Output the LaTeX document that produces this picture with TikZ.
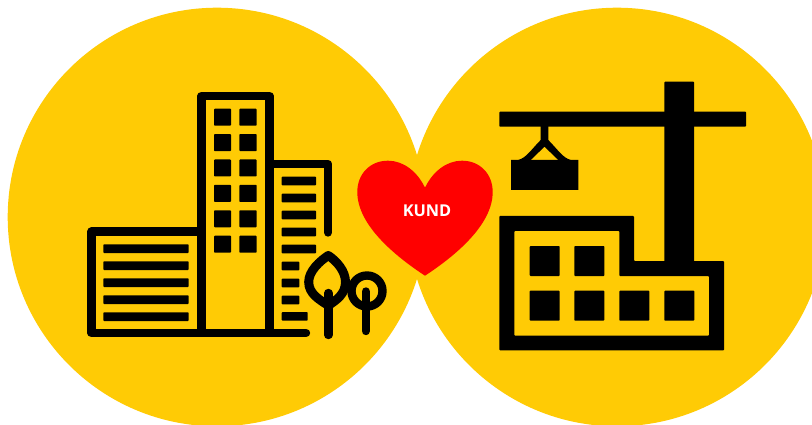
\documentclass[tikz,border=0pt]{standalone}
\usepackage{fontspec}
\setmainfont{Open Sans}
\definecolor{gold}{HTML}{FFCB05}
\definecolor{hrt}{HTML}{FF0000}
\tikzset{
  ink/.style={draw=black,line width=8.4pt,line join=round},
  inkr/.style={ink,line cap=round},
  bar/.style={fill=black,rounded corners=0.8pt},
}
\begin{document}
\begin{tikzpicture}[x=1pt,y=-1pt]
\useasboundingbox (0,0) rectangle (812,425);
\clip (0,0) rectangle (812,425);
\fill[white] (0,0) rectangle (812,425);
\fill[gold] (217,217) circle[radius=209.3];
\fill[gold] (617,217) circle[radius=209.3];
% left: buildings
\draw[ink] (201.5,333) -- (201.5,96) -- (269.5,96) -- (269.5,333);
\draw[inkr] (306,333) -- (91.5,333) -- (91.5,231.7) -- (201.5,231.7);
\draw[inkr] (269.5,164) -- (328,164) -- (328,232.5);
\foreach \r in {0,...,5}{
  \fill[bar] (214,108.7+25.4*\r) rectangle (231,125.7+25.4*\r);
  \fill[bar] (239.3,108.7+25.4*\r) rectangle (256.7,125.7+25.4*\r);
}
\foreach \r in {0,...,4}{
  \fill[bar] (103.3,244.3+17*\r) rectangle (188.7,253+17*\r);
  \fill[bar] (281.7,176.7+17*\r) rectangle (316,185.3+17*\r);
}
\foreach \r in {5,6,7}{
  \fill[bar] (281.7,176.7+17*\r) rectangle (299.3,185.3+17*\r);
}
\fill[bar] (281.7,312) rectangle (307.7,320.6);
% trees
\draw[ink,line width=9pt] (328.3,255.5) .. controls (320,261) and (308.7,271) .. (308.7,282)
  .. controls (308.7,294) and (320,300) .. (328.3,305.5)
  .. controls (336.6,300) and (345.5,294) .. (345.5,282)
  .. controls (345.5,271) and (336.6,261) .. (328.3,255.5) -- cycle;
\draw[inkr] (328.3,293) -- (328.3,335);
\draw[ink] (367,291) circle[radius=15.5];
\draw[inkr] (365.7,291.5) -- (365.7,331);
% right: crane
\fill[bar] (499.3,111.7) rectangle (746,126.7);
\fill[bar] (664.3,81.7) rectangle (694,265);
\fill[black,even odd rule]
  (540.7,126) -- (540.7,140) .. controls (530,151) and (526,158) .. (518,160)
  -- (511,160) -- (511,190) -- (578.3,190) -- (578.3,160) -- (571,160)
  .. controls (563,158) and (559,151) .. (548.3,140) -- (548.3,126) -- cycle
  (530.7,160) -- (558.3,160) -- (544.5,146.7) -- cycle;
% building under the crane
\fill[black,even odd rule,rounded corners=0.8pt]
  (499.3,216) -- (634,216) -- (634,261) -- (724,261) -- (724,350.3) -- (499.3,350.3) -- cycle
  (514.3,231) -- (619.3,231) -- (619.3,276) -- (709,276) -- (709,335.7) -- (514.3,335.7) -- cycle;
\foreach \x in {529.7,574.3}{
  \fill[bar] (\x,246) rectangle ++(30,30);
}
\foreach \x in {529.7,574.3,619.3,664.3}{
  \fill[bar] (\x,290.7) rectangle ++(30,30);
}
% heart
\fill[hrt] (425,187.7)
  .. controls (417,171) and (403,160.7) .. (388,160.7)
  .. controls (370,160.7) and (357.3,174) .. (357.3,192)
  .. controls (357.3,225) and (395,256) .. (425,275.7)
  .. controls (455,256) and (492.7,225) .. (492.7,192)
  .. controls (492.7,174) and (480,160.7) .. (462,160.7)
  .. controls (447,160.7) and (433,171) .. (425,187.7) -- cycle;
\node[text=white,font=\bfseries\fontsize{16.3}{18}\selectfont,inner sep=0pt] (kund) at (427,210.5) {KUND};
\end{tikzpicture}
\end{document}
